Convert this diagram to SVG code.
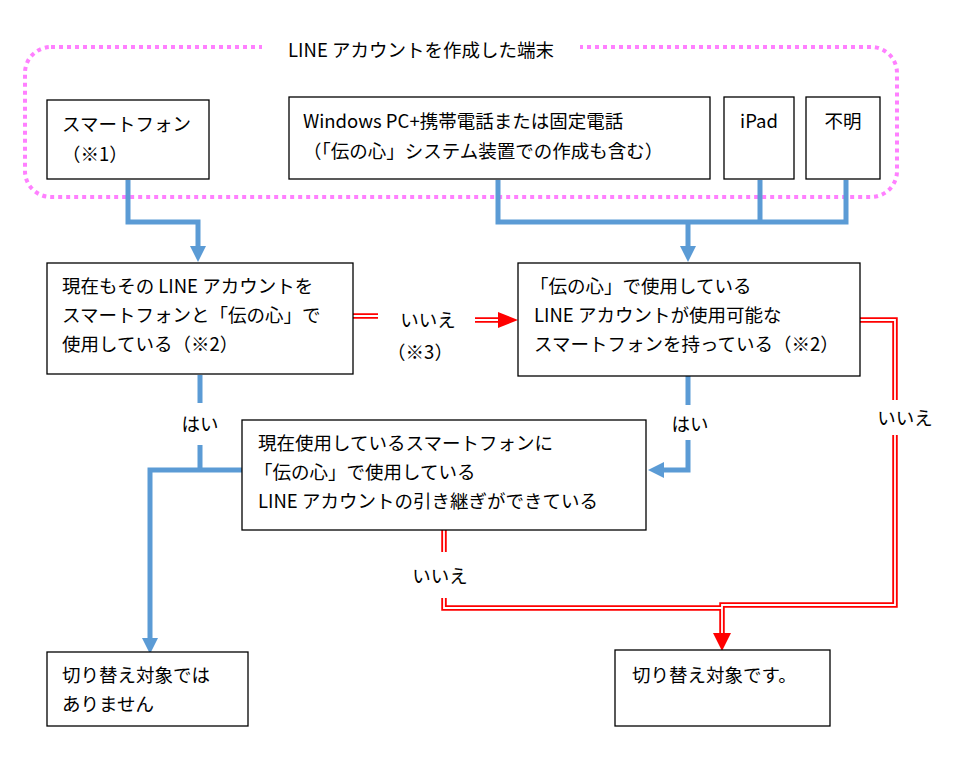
<svg xmlns="http://www.w3.org/2000/svg" width="963" height="776" viewBox="0 0 963 776">
<style>
text{font-family:"Noto Sans CJK JP",sans-serif;font-size:18.5px;fill:#000}
.box{fill:#fff;stroke:#000;stroke-width:1.3}
.b{fill:none;stroke:#5b9bd5;stroke-width:5}
.r{fill:none;stroke:#ff0000;stroke-width:5.5}
.w{fill:none;stroke:#fff;stroke-width:1.8}
</style>
<rect width="963" height="776" fill="#fff"/>
<g id="group-frame">
<rect x="25" y="47" width="872" height="150" rx="26" fill="none" stroke="#ff80ff" stroke-width="4" stroke-dasharray="4,4"/>
<rect x="262" y="36" width="318" height="22" fill="#fff"/>
<text x="421" y="57" text-anchor="middle">LINE アカウントを作成した端末</text>
</g>
<g id="connectors">
<path class="b" d="M128,180V222H198V248"/>
<path d="M190,246L198,262L206,246z" fill="#5b9bd5"/>
<path class="b" d="M498,180V222H846V180M760,180V222M688,222V248"/>
<path d="M680,246L688,262L696,246z" fill="#5b9bd5"/>
<path class="b" d="M200,375V403M200,445V470M242,470H150V640"/>
<path d="M142,638L150,654L158,638z" fill="#5b9bd5"/>
<path class="b" d="M688,376V405M688,440V470H662"/>
<path d="M664,462L648,470L664,478z" fill="#5b9bd5"/>
<path class="r" d="M353,316H378M475,320H500"/>
<path class="w" d="M353,316H378M475,320H500"/>
<path d="M498,312L518,320L498,328z" fill="#f00"/>
<path class="r" d="M860,320H895V400M895,435V605H722V635M444,530V552M444,598V608H722"/>
<path class="w" d="M860,320H895V400M895,435V605H722V635M444,530V552M444,598V608H722"/>
<path d="M713,633L722,651L731,633z" fill="#f00"/>
<text x="428" y="327" text-anchor="middle">いいえ</text>
<text x="420" y="359" text-anchor="middle">（※3）</text>
<text x="200" y="431" text-anchor="middle">はい</text>
<text x="690" y="431" text-anchor="middle">はい</text>
<text x="905" y="425" text-anchor="middle">いいえ</text>
<text x="440" y="583" text-anchor="middle">いいえ</text>
</g>
<g id="n-smart"><rect class="box" x="47" y="100" width="162" height="79"/><text x="62" y="131">スマートフォン</text><text x="62" y="161">（※1）</text></g>
<g id="n-win"><rect class="box" x="289" y="97" width="421" height="82"/><text x="303" y="128">Windows PC+携帯電話または固定電話</text><text x="303" y="158">（「伝の心」システム装置での作成も含む）</text></g>
<g id="n-ipad"><rect class="box" x="724" y="97" width="70" height="82"/><text x="759" y="128" text-anchor="middle">iPad</text></g>
<g id="n-fumei"><rect class="box" x="806" y="97" width="74" height="82"/><text x="843" y="128" text-anchor="middle">不明</text></g>
<g id="n-q1"><rect class="box" x="47" y="263" width="306" height="111"/><text x="62" y="293">現在もその LINE アカウントを</text><text x="62" y="322">スマートフォンと「伝の心」で</text><text x="62" y="351">使用している（※2）</text></g>
<g id="n-q2"><rect class="box" x="518" y="263" width="342" height="113"/><text x="530" y="293">「伝の心」で使用している</text><text x="534" y="322">LINE アカウントが使用可能な</text><text x="534" y="351">スマートフォンを持っている（※2）</text></g>
<g id="n-q3"><rect class="box" x="242" y="420" width="404" height="110"/><text x="258" y="450">現在使用しているスマートフォンに</text><text x="254" y="479">「伝の心」で使用している</text><text x="258" y="508">LINE アカウントの引き継ぎができている</text></g>
<g id="n-no"><rect class="box" x="47" y="652" width="201" height="74"/><text x="62" y="682">切り替え対象では</text><text x="62" y="711">ありません</text></g>
<g id="n-yes"><rect class="box" x="615" y="650" width="215" height="76"/><text x="632" y="682">切り替え対象です。</text></g>
</svg>
